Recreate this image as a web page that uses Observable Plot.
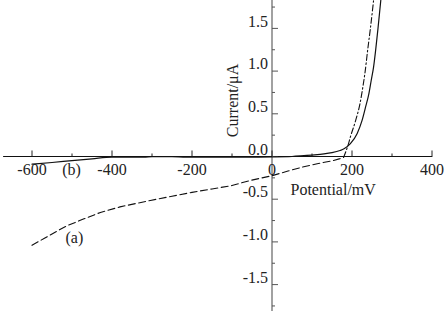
<!DOCTYPE html>
<html><head><meta charset="utf-8">
<script src="https://cdn.jsdelivr.net/npm/d3@7"></script>
<script src="https://cdn.jsdelivr.net/npm/@observablehq/plot@0.6"></script>
<style>html,body{margin:0;padding:0;background:#fff;}</style>
</head><body><div id="chart"></div>
<script>
// Tick values and labels
const xMajorTicks = [-600, -400, -200, 0, 200, 400];
const xMinorTicks = [-500, -300, -100, 100, 300];
const xTickLabels = ["-600", "-400", "-200", "0", "200", "400"];
const yMajorTicks = [-1.5, -1.0, -0.5, 0, 0.5, 1.0, 1.5];
const yMinorTicks = [-1.75, -1.25, -0.75, -0.25, 0.25, 0.75, 1.25, 1.75];
const yTickLabels = ["-1.5", "-1.0", "-0.5", "0.0", "0.5", "1.0", "1.5"];
const xAxisExtent = [-671, 402];

// Curve (b): solid
const bV = [-600, -550, -500, -450, -400, -360, -320, -300, -250, -215, -150, -100, -50, 0, 50, 80, 100, 130, 150, 170, 180, 196, 213, 225, 234, 242, 248, 254, 259, 265, 272];
const bI = [-0.09, -0.07, -0.048, -0.027, -0.008, -0.008, -0.008, -0.003, -0.002, -0.008, -0.008, -0.008, -0.008, -0.006, 0.0, 0.01, 0.017, 0.03, 0.045, 0.07, 0.09, 0.15, 0.27, 0.42, 0.58, 0.73, 0.89, 1.05, 1.24, 1.5, 1.83];

// Curve (a): dashed lower branch
const aLowV = [-600, -570, -540, -512, -470, -429, -380, -340, -304, -250, -200, -150, -100, -54, 0, 40, 71, 113, 154, 170, 179];
const aLowI = [-1.04, -0.96, -0.88, -0.81, -0.73, -0.655, -0.59, -0.55, -0.515, -0.465, -0.42, -0.38, -0.34, -0.28, -0.225, -0.17, -0.13, -0.085, -0.047, -0.025, -0.01];
// Curve (a): dash-dot rising branch
const aHighV = [179, 184, 190, 196, 209, 220, 227, 233, 239, 246, 254];
const aHighI = [-0.01, 0.05, 0.13, 0.23, 0.42, 0.62, 0.81, 1.0, 1.24, 1.5, 1.83];

// Curve labels
const curveLabels = ["(b)", "(a)"];
const labelV = [-501, -494];
const labelI = [-0.152, -0.95];

const toPts = (V, I) => V.map((v, i) => ({v, i: I[i]}));
const font = "'Liberation Serif', 'Times New Roman', serif";
const tickUp = (len) => ({draw(ctx) { ctx.moveTo(0, 0); ctx.lineTo(0, -len); }});
const tickRight = (len) => ({draw(ctx) { ctx.moveTo(0, 0); ctx.lineTo(len, 0); }});
const txt = {fontSize: 16, fill: "#222", fontFamily: font};

const chart = Plot.plot({
  width: 448,
  height: 311,
  marginLeft: 0, marginRight: 0, marginTop: 0, marginBottom: 0,
  x: {domain: [-678.75, 441.25], axis: null},
  y: {domain: [-1.815, 1.8267], axis: null},
  style: {fontFamily: font, background: "#fff"},
  marks: [
    Plot.ruleX([0], {stroke: "#8a8a8a", strokeWidth: 1.6}),
    Plot.ruleY([0], {x1: xAxisExtent[0], x2: xAxisExtent[1], stroke: "#111", strokeWidth: 1.2}),
    Plot.dot(xMajorTicks, {x: d => d, y: 0, symbol: tickUp(6), fill: "none", stroke: "#222", strokeWidth: 1}),
    Plot.dot(xMinorTicks, {x: d => d, y: 0, symbol: tickUp(3), fill: "none", stroke: "#222", strokeWidth: 1}),
    Plot.dot(yMajorTicks, {x: 0, y: d => d, symbol: tickRight(6), fill: "none", stroke: "#555", strokeWidth: 1}),
    Plot.dot(yMinorTicks, {x: 0, y: d => d, symbol: tickRight(3), fill: "none", stroke: "#555", strokeWidth: 1}),
    Plot.text(xMajorTicks, {x: d => d, y: 0, text: (d, i) => xTickLabels[i], dy: 13, ...txt}),
    Plot.text(yMajorTicks, {x: 0, y: d => d, text: (d, i) => yTickLabels[i], textAnchor: "end", dx: -4, dy: -7, ...txt}),
    Plot.line(toPts(aLowV, aLowI), {x: "v", y: "i", stroke: "#111", strokeWidth: 1.1, strokeDasharray: "7,3.5"}),
    Plot.line(toPts(aHighV, aHighI), {x: "v", y: "i", stroke: "#111", strokeWidth: 1.1, strokeDasharray: "6,2.5,1.5,2.5", curve: "monotone-x"}),
    Plot.line(toPts(bV, bI), {x: "v", y: "i", stroke: "#111", strokeWidth: 1.2, curve: "monotone-x"}),
    Plot.text(curveLabels, {x: (d, i) => labelV[i], y: (d, i) => labelI[i], text: d => d, ...txt}),
    Plot.text(["Current/μA"], {x: 0, y: 0.656, text: d => d, rotate: -90, dx: -39, ...txt}),
    Plot.text(["Potential/mV"], {x: 0, y: 0, text: d => d, textAnchor: "start", dx: 18.5, dy: 33, ...txt})
  ]
});
document.getElementById("chart").appendChild(chart);
</script>
</body></html>
